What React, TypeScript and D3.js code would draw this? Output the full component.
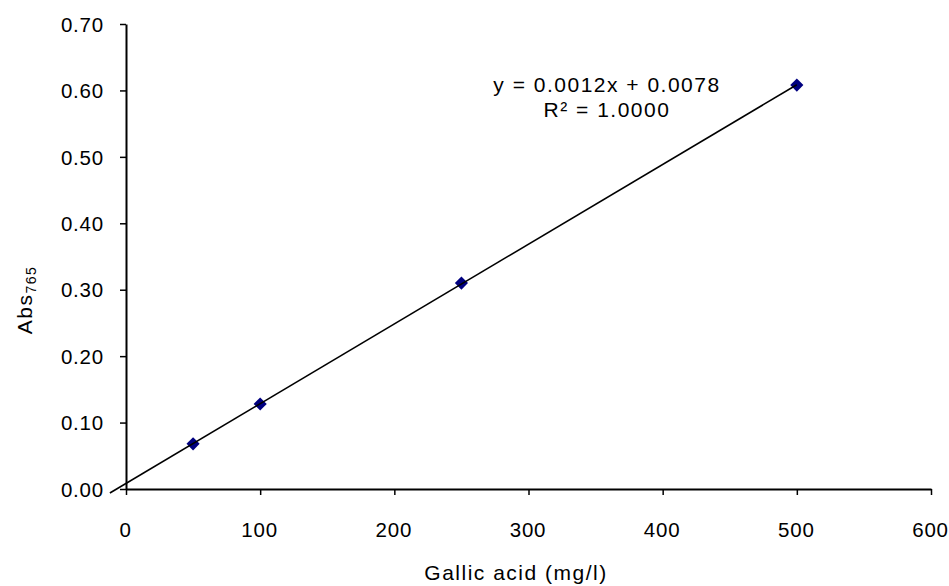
import React, { useRef, useEffect } from "react";
import * as d3 from "d3";

// Standard curve data
const concentrations = [50, 100, 250, 500];
const absorbance = [0.068, 0.128, 0.31, 0.608];
const xTicks = [0, 100, 200, 300, 400, 500, 600];
const yTicks = [0, 0.1, 0.2, 0.3, 0.4, 0.5, 0.6, 0.7];
const equationText = "y = 0.0012x + 0.0078";
const r2Text = "R² = 1.0000";

const W = 949;
const H = 586;

function App() {
  const svgRef = useRef<SVGSVGElement>(null);

  useEffect(() => {
    const svg = d3.select(svgRef.current);
    svg.selectAll("*").remove();

    const left = 126, right = 931, top = 24, bottom = 489;
    const x = d3.scaleLinear().domain([0, 600]).range([left, right]);
    const y = d3.scaleLinear().domain([0, 0.7]).range([bottom, top]);
    const font = "'Liberation Sans', Arial, sans-serif";
    const fs = "21px";
    const ls = "1.5px";

    // least-squares fit for the trendline
    const n = concentrations.length;
    const mx = d3.mean(concentrations)!;
    const my = d3.mean(absorbance)!;
    let sxy = 0, sxx = 0;
    for (let i = 0; i < n; i++) {
      sxy += (concentrations[i] - mx) * (absorbance[i] - my);
      sxx += (concentrations[i] - mx) ** 2;
    }
    const slope = sxy / sxx;
    const icpt = my - slope * mx;

    // axes
    const yAxis = svg.append("g").attr("transform", `translate(${left},0)`)
      .call(d3.axisLeft(y).tickValues(yTicks).tickSize(6).tickSizeOuter(0).tickFormat(d3.format(".2f")));
    const xAxis = svg.append("g").attr("transform", `translate(0,${bottom})`)
      .call(d3.axisBottom(x).tickValues(xTicks).tickSize(6).tickSizeOuter(0).tickFormat(d3.format("d")));
    [xAxis, yAxis].forEach(a => {
      a.attr("font-size", null).attr("font-family", null);
      a.select(".domain").attr("stroke", "#000").attr("stroke-width", 2);
      a.selectAll(".tick line").attr("stroke", "#000").attr("stroke-width", 1.5);
      a.selectAll(".tick text").attr("fill", "#000").style("font-family", font)
        .style("font-size", "20.5px").style("letter-spacing", "0.8px");
    });
    yAxis.selectAll(".tick text").attr("x", -22).attr("dy", "0.35em");
    xAxis.selectAll(".tick text").attr("y", 48).attr("dy", null).attr("dx", "-1px");

    // markers
    const diamond = d3.symbol().type(d3.symbolDiamond2).size(110);
    svg.append("g").selectAll("path").data(concentrations).enter().append("path")
      .attr("d", diamond as any)
      .attr("transform", (d, i) => `translate(${x(d)},${y(absorbance[i])})`)
      .attr("fill", "#000080");

    // trendline
    const x0 = -12, x1 = 500;
    svg.append("line")
      .attr("x1", x(x0)).attr("y1", y(slope * x0 + icpt))
      .attr("x2", x(x1)).attr("y2", y(slope * x1 + icpt))
      .attr("stroke", "#000").attr("stroke-width", 1.6);

    // equation
    const eq = svg.append("g").style("font-family", font).style("font-size", fs)
      .style("letter-spacing", ls).attr("text-anchor", "middle");
    eq.append("text").attr("x", 607).attr("y", 92).text(equationText);
    eq.append("text").attr("x", 607).attr("y", 117).text(r2Text);

    // axis titles
    svg.append("text").attr("x", 516).attr("y", 580).attr("text-anchor", "middle")
      .style("font-family", font).style("font-size", fs).style("letter-spacing", ls)
      .text("Gallic acid (mg/l)");
    const yt = svg.append("text").attr("transform", "translate(32,300) rotate(-90)")
      .attr("text-anchor", "middle").style("font-family", font).style("font-size", fs)
      .style("letter-spacing", ls);
    yt.append("tspan").text("Abs");
    yt.append("tspan").attr("dy", 4).style("font-size", "14px").text("765");
  }, []);

  return (
    <div style={{ position: "absolute", left: 0, top: 0 }}>
      <svg ref={svgRef} width={W} height={H} style={{ display: "block", background: "#fff" }} />
    </div>
  );
}

export default App;
